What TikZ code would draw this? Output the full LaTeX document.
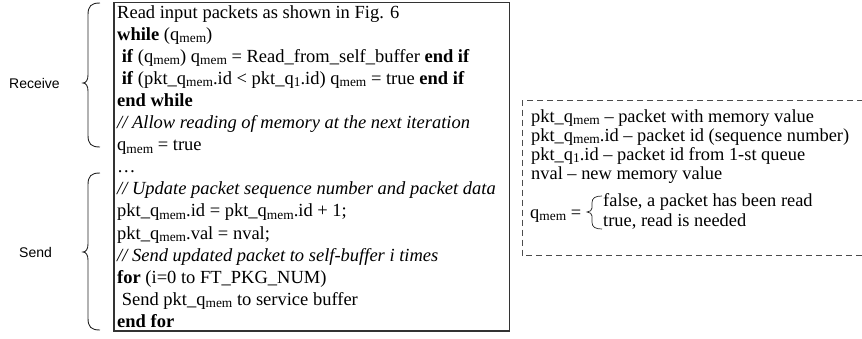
\documentclass[tikz,border=0pt]{standalone}
\usepackage{fontspec}
\setmainfont{Liberation Serif}
\newfontfamily\lblfont{Liberation Sans}
% lowered, reduced-size index text
\newcommand{\idx}[1]{\raisebox{-2.6pt}{\fontsize{13.4}{14}\selectfont #1}}
\newcommand{\qm}{q\idx{mem}}
\newcommand{\qone}{q\idx{1}}
\begin{document}
\begin{tikzpicture}[x=1pt,y=-1pt,
  code/.style={anchor=base west,inner sep=0pt,font=\fontsize{18.5}{20}\selectfont},
  legend/.style={anchor=base west,inner sep=0pt,font=\fontsize{18.4}{20}\selectfont},
  side/.style={anchor=west,inner sep=0pt,font=\lblfont\fontsize{14}{16}\selectfont},
  bracepath/.style={draw=black!85,line width=0.9pt},
  codebox/.style={draw=black!80,line width=1.2pt},
  notebox/.style={draw=black!70,line width=0.8pt,dash pattern=on 6pt off 4pt}]
\useasboundingbox (0,0) rectangle (862,338);

% algorithm listing frame
\draw[codebox] (114,2.5) rectangle (509.5,331);

\node[code] (l1)  at (117, 18) {Read input packets as shown in Fig. 6};
\node[code] (l2)  at (117, 40.1) {\textbf{while} (\qm)};
\node[code] (l3)  at (117, 62.2) {\ \textbf{if} (\qm) \qm{} = Read\_from\_self\_buffer \textbf{end if}};
\node[code] (l4)  at (117, 84.3) {\ \textbf{if} (pkt\_\qm.id < pkt\_\qone.id) \qm{} = true \textbf{end if}};
\node[code] (l5)  at (117,106.4) {\textbf{end while}};
\node[code] (l6)  at (117,128.5) {\textit{// Allow reading of memory at the next iteration}};
\node[code] (l7)  at (117,150.6) {\qm{} = true};
\node[code] (l8)  at (117,172.7) {\ldots};
\node[code] (l9)  at (117,194.8) {\textit{// Update packet sequence number and packet data}};
\node[code] (l10) at (117,216.9) {pkt\_\qm.id = pkt\_\qm.id + 1;};
\node[code] (l11) at (117,239.0) {pkt\_\qm.val = nval;};
\node[code] (l12) at (117,261.1) {\textit{// Send updated packet to self-buffer i times}};
\node[code] (l13) at (117,283.2) {\textbf{for} (i=0 to FT\_PKG\_NUM)};
\node[code] (l14) at (117,305.3) {\ Send pkt\_\qm{} to service buffer};
\node[code] (l15) at (117,327.4) {\textbf{end for}};

% phase braces and labels
\draw[bracepath] (100,3) .. controls (91,3) and (88,6) .. (88,15)
  -- (88,75) .. controls (88,80) and (86,83) .. (83,83)
  .. controls (86,83) and (88,86) .. (88,91)
  -- (88,135) .. controls (88,144) and (91,147) .. (100,147);
\node[side] (recv) at (9,83) {Receive};

\draw[bracepath] (100,173) .. controls (91,173) and (88,176) .. (88,185)
  -- (88,244) .. controls (88,249) and (86,252) .. (83,252)
  .. controls (86,252) and (88,255) .. (88,260)
  -- (88,318) .. controls (88,327) and (91,330) .. (100,330);
\node[side] (send) at (19,252) {Send};

% notation legend
\draw[notebox] (863,100.5) -- (522,100.5) -- (522,255.5) -- (863,255.5);

\node[legend] (n1) at (531,122) {pkt\_\qm{} – packet with memory value};
\node[legend] (n2) at (531,141) {pkt\_\qm.id – packet id (sequence number)};
\node[legend] (n3) at (531,160) {pkt\_\qone.id – packet id from 1-st queue};
\node[legend] (n4) at (531,179) {nval – new memory value};
\node[legend] (n5) at (530,218) {\qm{} =};
\node[legend] (n6) at (603,206) {false, a packet has been read};
\node[legend] (n7) at (603,226) {true, read is needed};
\draw[bracepath,line width=0.7pt] (602,196) .. controls (595,196) and (592,198) .. (592,203)
  -- (592,208) .. controls (592,210) and (590,212) .. (587,212)
  .. controls (590,212) and (592,214) .. (592,216)
  -- (592,222) .. controls (592,227) and (595,229) .. (602,229);
\end{tikzpicture}
\end{document}
